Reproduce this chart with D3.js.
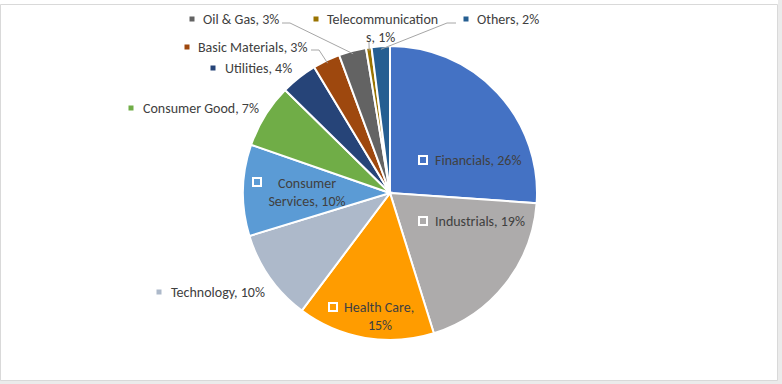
<!DOCTYPE html>
<html>
<head>
<meta charset="utf-8">
<script src="https://cdn.jsdelivr.net/npm/d3@7"></script>
<style>
  body { margin: 0; background: #fff; }
  text { font-family: Carlito, Calibri, "Liberation Sans Narrow", "Liberation Sans", sans-serif; font-size: 14px; fill: #404040; }
</style>
</head>
<body>
<script>
var sectors = ["Financials", "Industrials", "Health Care", "Technology", "Consumer Services",
  "Consumer Good", "Utilities", "Basic Materials", "Oil & Gas", "Telecommunications", "Others"];
var shares = [26, 19, 15, 10, 10, 7, 4, 3, 3, 0.6, 2];
var colors = ["#4472c4", "#adabab", "#ff9c00", "#adb9ca", "#5b9bd5",
  "#70ad47", "#264478", "#9e480e", "#636363", "#997300", "#255e91"];

var width = 782, height = 384;
var svg = d3.select("body")
  .append("svg")
    .attr("width", width)
    .attr("height", height);

// frame with a light gray edge on the right and bottom
svg.append("rect").attr("x", 0).attr("y", 0).attr("width", width).attr("height", height).attr("fill", "#ebebeb");
svg.append("rect").attr("x", 0).attr("y", 0).attr("width", 778).attr("height", 380).attr("fill", "#fff");
svg.append("path")
  .attr("d", "M0.5,4.5H777.5V380.5H0.5Z")
  .attr("fill", "none")
  .attr("stroke", "#d9d9d9");

var cx = 390, cy = 193, r = 147;
var total = d3.sum(shares);
var pie = d3.pie().sort(null).value(function(d) { return d; });
var arc = d3.arc().innerRadius(0).outerRadius(r);
var arcs = pie(shares);

var g = svg.append("g").attr("transform", "translate(" + cx + "," + cy + ")");
g.selectAll("path")
  .data(arcs)
  .enter()
  .append("path")
    .attr("d", arc)
    .attr("fill", function(d, i) { return colors[i]; })
    .attr("stroke", "#fff")
    .attr("stroke-width", 2);

function pct(i) { return Math.round(shares[i] / total * 100) + "%"; }

// label layout: marker position, text lines [x, y, text, anchor], inside or outside, leader line
var layout = [
  {inside: true, mx: 423, my: 160, lines: [[435, 165, sectors[0] + ", " + pct(0)]]},
  {inside: true, mx: 423, my: 221, lines: [[435, 226, sectors[1] + ", " + pct(1)]]},
  {inside: true, mx: 333, my: 307, lines: [[344, 312, sectors[2] + ","], [380, 330, pct(2), "middle"]]},
  {mx: 159, my: 292, lines: [[171, 297, sectors[3] + ", " + pct(3)]]},
  {inside: true, mx: 257, my: 182, lines: [[307, 188, "Consumer", "middle"], [307, 206, "Services, " + pct(4), "middle"]]},
  {mx: 131, my: 108, lines: [[143, 113, sectors[5] + ", " + pct(5)]]},
  {mx: 213, my: 68, lines: [[225, 73, sectors[6] + ", " + pct(6)]]},
  {mx: 187, my: 47, lines: [[198, 52, sectors[7] + ", " + pct(7)]], leader: [[311, 50], [319, 50]]},
  {mx: 192, my: 19, lines: [[203, 24, sectors[8] + ", " + pct(8)]], leader: [[282, 23], [290, 23]]},
  {mx: 316, my: 19, lines: [[327, 24, "Telecommunication"], [366, 42, "s, " + pct(9)]], leader: [[369, 42], [369, 44]]},
  {mx: 466, my: 19, lines: [[477, 24, sectors[10] + ", " + pct(10)]], leader: [[456, 23], [447, 23]]}
];

var leaderArc = d3.arc().innerRadius(r - 3).outerRadius(r - 3);

layout.forEach(function(L, i) {
  if (L.leader) {
    var c = leaderArc.centroid(arcs[i]);
    var pts = L.leader.concat([[cx + c[0], cy + c[1]]]);
    svg.append("path")
      .attr("d", d3.line()(pts))
      .attr("fill", "none")
      .attr("stroke", "#a6a6a6")
      .attr("stroke-width", 1);
  }
  if (L.inside) {
    svg.append("rect")
      .attr("x", L.mx - 4).attr("y", L.my - 4)
      .attr("width", 8).attr("height", 8)
      .attr("fill", colors[i])
      .attr("stroke", "#fff")
      .attr("stroke-width", 2);
  } else {
    svg.append("rect")
      .attr("x", L.mx - 2.5).attr("y", L.my - 2.5)
      .attr("width", 5).attr("height", 5)
      .attr("fill", colors[i]);
  }
  L.lines.forEach(function(t) {
    svg.append("text")
      .attr("x", t[0]).attr("y", t[1])
      .attr("text-anchor", t[3] || "start")
      .text(t[2]);
  });
});
</script>
</body>
</html>
